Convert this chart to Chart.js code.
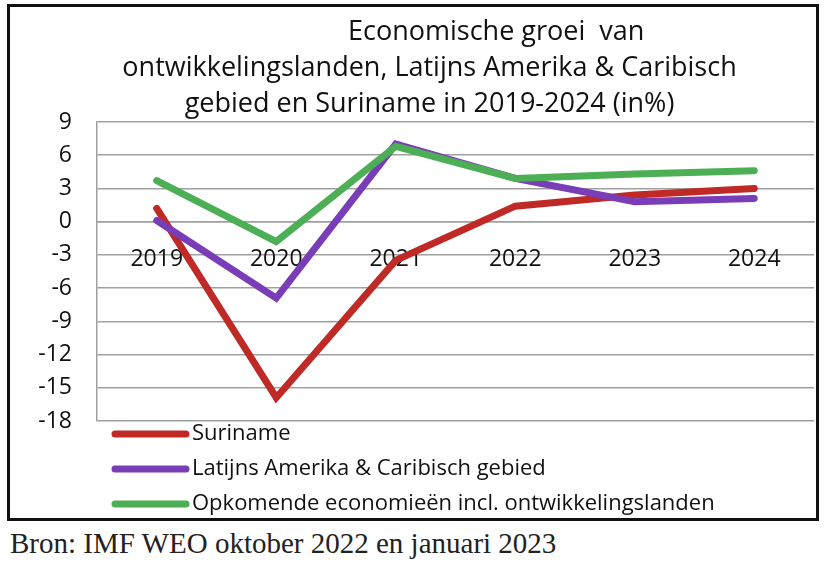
<!DOCTYPE html>
<html>
<head>
<meta charset="utf-8">
<script src="https://cdn.jsdelivr.net/npm/chart.js@4.4.1/dist/chart.umd.min.js"></script>
<style>
  body { margin: 0; background: #fff; }
  #box {
    position: absolute; left: 7px; top: 4px;
    width: 806px; height: 511px;
    border: 3px solid #111;
  }
  #source {
    position: absolute; left: 10px; top: 527px;
    font-family: "Liberation Serif", serif; font-size: 29px; color: #222;
  }
</style>
</head>
<body>
<div id="box"><canvas id="growthChart" width="806" height="511"></canvas></div>
<div id="source">Bron: IMF WEO oktober 2022 en januari 2023</div>
<script>
// Data
const years = ['2019', '2020', '2021', '2022', '2023', '2024'];
const suriname = [1.2, -15.9, -3.5, 1.4, 2.4, 3.0];
const latinAmerica = [0.1, -6.9, 7.0, 3.9, 1.8, 2.1];
const emerging = [3.7, -1.8, 6.8, 3.9, 4.3, 4.6];
const yTicks = [9, 6, 3, 0, -3, -6, -9, -12, -15, -18];

const font = '"Open Sans", sans-serif';

// Legend drawn one item per row under the plot
const stackedLegend = {
    id: 'stackedLegend',
    afterDraw(chart) {
        const ctx = chart.ctx;
        ctx.save();
        ctx.font = '22px ' + font;
        ctx.textBaseline = 'middle';
        ctx.lineCap = 'round';
        chart.data.datasets.forEach((ds, i) => {
            const y = 427 + i * 35;
            ctx.strokeStyle = ds.borderColor;
            ctx.lineWidth = 7;
            ctx.beginPath();
            ctx.moveTo(105, y);
            ctx.lineTo(176, y);
            ctx.stroke();
            ctx.fillStyle = '#111';
            ctx.fillText(ds.label, 182, y);
        });
        ctx.restore();
    }
};

const ctx = document.getElementById('growthChart').getContext('2d');

new Chart(ctx, {
    type: 'line',
    data: {
        labels: years,
        datasets: [
            { label: 'Suriname', data: suriname, borderColor: '#bf2a26', order: 3 },
            { label: 'Latijns Amerika & Caribisch gebied', data: latinAmerica, borderColor: '#7a3db8', order: 2 },
            { label: 'Opkomende economieën incl. ontwikkelingslanden', data: emerging, borderColor: '#4caf55', order: 1 }
        ]
    },
    options: {
        responsive: false,
        animation: false,
        datasets: {
            line: { borderWidth: 7, pointRadius: 0, borderCapStyle: 'round', tension: 0 }
        },
        layout: { padding: { left: 0, right: 2, top: 0, bottom: 97 } },
        scales: {
            x: {
                position: { y: 0 },
                offset: true,
                grid: { display: false },
                border: { color: '#a0a0a0', width: 1.5 },
                ticks: { color: '#111', font: { family: font, size: 23 }, padding: 16 }
            },
            y: {
                min: -18,
                max: 9,
                afterBuildTicks: scale => { scale.ticks = yTicks.map(v => ({ value: v })); },
                afterFit: scale => { scale.width = 87; },
                grid: { color: '#a0a0a0', lineWidth: 1.5, drawTicks: false },
                border: { color: '#a0a0a0', width: 1.5 },
                ticks: { color: '#111', font: { family: font, size: 23 }, padding: 25 }
            }
        },
        plugins: {
            legend: { display: false },
            tooltip: { enabled: false },
            title: {
                display: true,
                text: [
                    '                        Economische groei  van',
                    '     ontwikkelingslanden, Latijns Amerika & Caribisch',
                    '     gebied en Suriname in 2019-2024 (in%)'
                ],
                color: '#111',
                font: { family: font, size: 27, weight: 'normal', lineHeight: 1.333 },
                padding: { top: 7, bottom: 0 }
            }
        }
    },
    plugins: [stackedLegend]
});
</script>
</body>
</html>
